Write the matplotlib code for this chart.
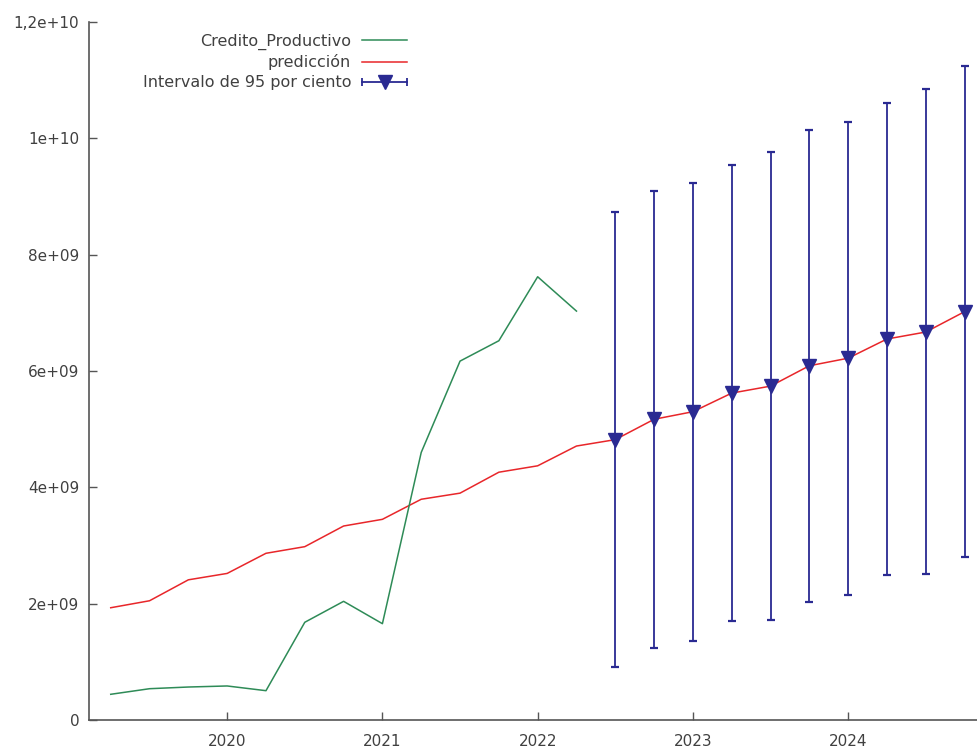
import matplotlib
matplotlib.use("Agg")
import matplotlib.pyplot as plt
from matplotlib.lines import Line2D
from matplotlib.legend_handler import HandlerBase
from matplotlib.ticker import FixedLocator, FixedFormatter

# Quarterly periods (year:quarter)
periods = ["2019:2", "2019:3", "2019:4",
           "2020:1", "2020:2", "2020:3", "2020:4",
           "2021:1", "2021:2", "2021:3", "2021:4",
           "2022:1", "2022:2", "2022:3", "2022:4",
           "2023:1", "2023:2", "2023:3", "2023:4",
           "2024:1", "2024:2", "2024:3", "2024:4"]

# Observed series (2019:2 - 2022:2)
credito_productivo = [0.442e9, 0.538e9, 0.567e9, 0.585e9, 0.504e9, 1.68e9, 2.04e9,
                      1.656e9, 4.60e9, 6.17e9, 6.52e9, 7.62e9, 7.03e9]

# Fitted values and forecast (2019:2 - 2024:4)
prediccion = [1.93e9, 2.05e9, 2.41e9, 2.52e9, 2.866e9, 2.98e9, 3.335e9, 3.45e9,
              3.795e9, 3.90e9, 4.26e9, 4.37e9, 4.71e9,
              4.82e9, 5.17e9, 5.30e9, 5.62e9, 5.74e9, 6.09e9, 6.22e9, 6.55e9, 6.67e9, 7.02e9]

# 95% interval bounds for the out-of-sample forecast (2022:3 - 2024:4)
ic_inferior = [0.911e9, 1.243e9, 1.364e9, 1.696e9, 1.719e9, 2.029e9, 2.155e9, 2.493e9, 2.505e9, 2.808e9]
ic_superior = [8.73e9, 9.10e9, 9.23e9, 9.55e9, 9.77e9, 10.15e9, 10.28e9, 10.61e9, 10.84e9, 11.24e9]

y_ticks = [0, 2e9, 4e9, 6e9, 8e9, 1e10, 1.2e10]
y_tick_labels = ["0", "2e+09", "4e+09", "6e+09", "8e+09", "1e+10", "1,2e+10"]
x_ticks = [2020, 2021, 2022, 2023, 2024]
x_tick_labels = ["2020", "2021", "2022", "2023", "2024"]


def to_decimal(p):
    y, q = p.split(":")
    return int(y) + (int(q) - 1) / 4.0


t = [to_decimal(p) for p in periods]
t_obs = t[:len(credito_productivo)]
t_fc = t[len(t) - len(ic_inferior):]
pred_fc = prediccion[len(prediccion) - len(ic_inferior):]
err_low = [p - lo for p, lo in zip(pred_fc, ic_inferior)]
err_high = [hi - p for p, hi in zip(pred_fc, ic_superior)]

GREEN = "#2e8b57"
RED = "#e8262a"
BLUE = "#2a2a92"
TEXT = "#404040"
AXIS = "#555555"

plt.rcParams["font.family"] = ["DejaVu Sans"]
plt.rcParams["font.size"] = 11

fig = plt.figure(figsize=(9.77, 7.49), dpi=100)
ax = fig.add_axes([89 / 977, 29 / 749, 1 - 89 / 977, (720 - 22) / 749])

ax.plot(t_obs, credito_productivo, color=GREEN, lw=1.1, zorder=3)
ax.plot(t, prediccion, color=RED, lw=1.1, zorder=2)
ax.errorbar(t_fc, pred_fc, yerr=[err_low, err_high], fmt="v", color=BLUE,
            ms=10, mec=BLUE, mfc=BLUE, ecolor=BLUE, elinewidth=1.3,
            capsize=2.6, capthick=1.6, zorder=4)

ax.set_xlim(2019.11, 2024.83)
ax.set_ylim(0, 1.2e10)

ax.xaxis.set_major_locator(FixedLocator(x_ticks))
ax.xaxis.set_major_formatter(FixedFormatter(x_tick_labels))
ax.yaxis.set_major_locator(FixedLocator(y_ticks))
ax.yaxis.set_major_formatter(FixedFormatter(y_tick_labels))

for s in ("top", "right"):
    ax.spines[s].set_visible(False)
for s in ("left", "bottom"):
    ax.spines[s].set_color(AXIS)
    ax.spines[s].set_linewidth(1.2)

ax.tick_params(axis="x", direction="in", length=6, width=1, color=AXIS,
               labelcolor=TEXT, labelsize=11, pad=10)
ax.tick_params(axis="y", direction="in", length=6, width=1, color=AXIS,
               labelcolor=TEXT, labelsize=11, pad=7)


class HandlerInterval(HandlerBase):
    def create_artists(self, legend, orig_handle, xdescent, ydescent,
                       width, height, fontsize, trans):
        y = height / 2 - ydescent
        x0 = -xdescent
        x1 = -xdescent + width
        bar = Line2D([x0, x1], [y, y], color=BLUE, lw=1.3)
        caps = Line2D([x0, x1], [y, y], ls="none", marker="|", ms=6,
                      mew=1.3, color=BLUE)
        tri = Line2D([(x0 + x1) / 2], [y], ls="none", marker="v", ms=10,
                     color=BLUE)
        for a in (bar, caps, tri):
            a.set_transform(trans)
        return [bar, caps, tri]


h_cred = Line2D([], [], color=GREEN, lw=1.1)
h_pred = Line2D([], [], color=RED, lw=1.1)
h_int = Line2D([], [], color=BLUE)

leg = fig.legend([h_cred, h_pred, h_int],
                 ["Credito_Productivo", "predicción", "Intervalo de 95 por ciento"],
                 handler_map={h_int: HandlerInterval()},
                 loc="upper right", bbox_to_anchor=(407 / 977, 1 - 33.5 / 749),
                 frameon=False, markerfirst=False, handlelength=2.8,
                 handletextpad=0.7, labelspacing=0.3, borderpad=0,
                 borderaxespad=0, fontsize=11.5, labelcolor=TEXT)

fig.savefig("out.png", dpi=100, facecolor="white")
